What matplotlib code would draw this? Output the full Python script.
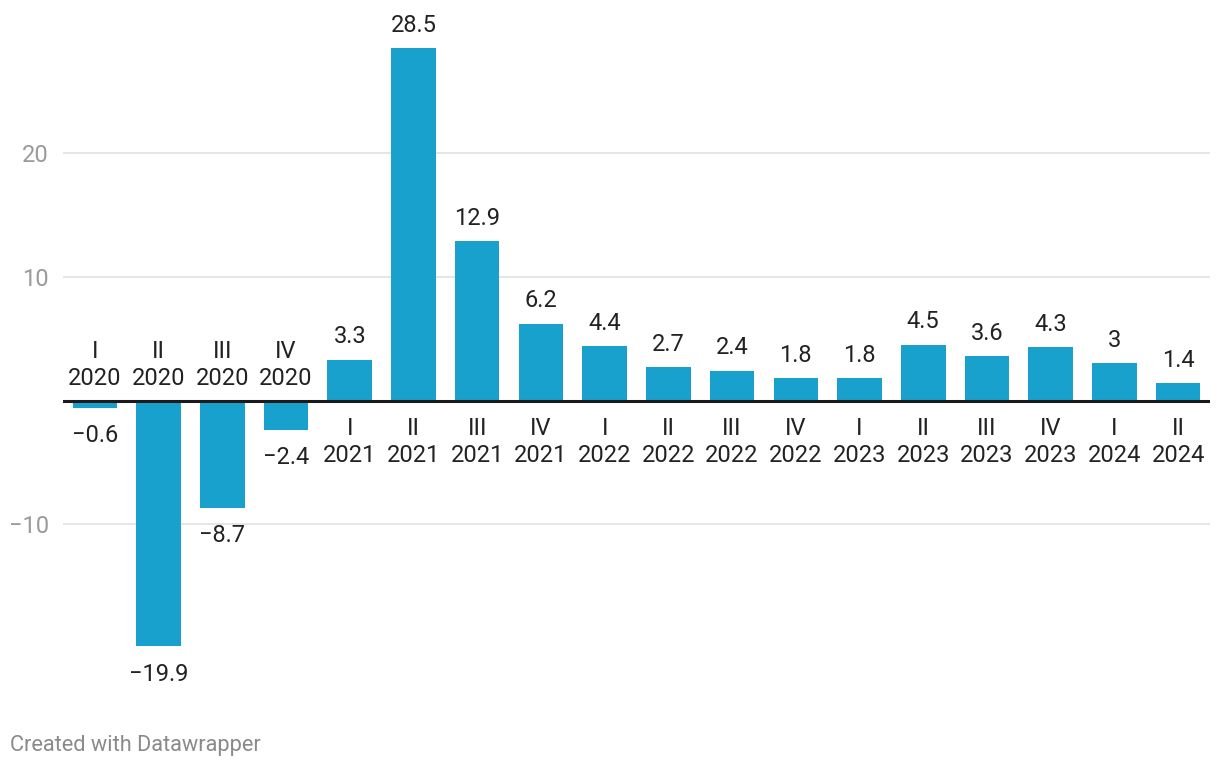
import matplotlib
matplotlib.use("Agg")
import matplotlib.pyplot as plt

quarters = ["I", "II", "III", "IV", "I", "II", "III", "IV", "I", "II", "III", "IV",
            "I", "II", "III", "IV", "I", "II"]
years = ["2020"] * 4 + ["2021"] * 4 + ["2022"] * 4 + ["2023"] * 4 + ["2024"] * 2
values = [-0.6, -19.9, -8.7, -2.4, 3.3, 28.5, 12.9, 6.2, 4.4, 2.7, 2.4, 1.8,
          1.8, 4.5, 3.6, 4.3, 3, 1.4]
value_labels = ["−0.6", "−19.9", "−8.7", "−2.4", "3.3", "28.5", "12.9", "6.2", "4.4",
                "2.7", "2.4", "1.8", "1.8", "4.5", "3.6", "4.3", "3", "1.4"]
yticks = [-10, 10, 20]
ytick_labels = ["−10", "10", "20"]

plt.rcParams['font.family'] = ['Roboto', 'DejaVu Sans']

BAR = '#19a1cd'
TXT = '#222222'
FS = 17

fig = plt.figure(figsize=(12.2, 7.68), dpi=100)
ax = fig.add_axes([63 / 1220, 1 - 680 / 768, (1210 - 63) / 1220, 640 / 768])

x = list(range(len(values)))
ax.bar(x, values, width=0.7, color=BAR, zorder=2)
ax.set_xlim(-0.5, len(values) - 0.5)
ax.set_ylim(-(680 - 400.5) / 12.36, (400.5 - 40) / 12.36)

for y in yticks:
    ax.axhline(y, color='#e0e0e0', lw=1.2, zorder=1)
ax.axhline(0, color='#1a1a1a', lw=2.2, zorder=3)

for i, v in enumerate(values):
    off = 16.5 if v >= 0 else -20
    ax.annotate(value_labels[i], (i, v), xytext=(0, off), textcoords='offset points',
                ha='center', va='center', fontsize=FS, color=TXT)
    cat = quarters[i] + "\n" + years[i]
    coff = -30 if v >= 0 else 25.5
    ax.annotate(cat, (i, 0), xytext=(0, coff), textcoords='offset points',
                ha='center', va='center', fontsize=FS, color=TXT, linespacing=1.25)

ax.set_yticks(yticks)
ax.set_yticklabels(ytick_labels)
ax.tick_params(axis='y', length=0, pad=10, labelsize=FS, labelcolor='#9a9a9a')
ax.set_xticks([])
for s in ax.spines.values():
    s.set_visible(False)

fig.text(10 / 1220, 1 - 745 / 768, "Created with Datawrapper", fontsize=15.7,
         color='#8a8a8a', ha='left', va='center')

fig.savefig("out.png", dpi=100, facecolor='white')
